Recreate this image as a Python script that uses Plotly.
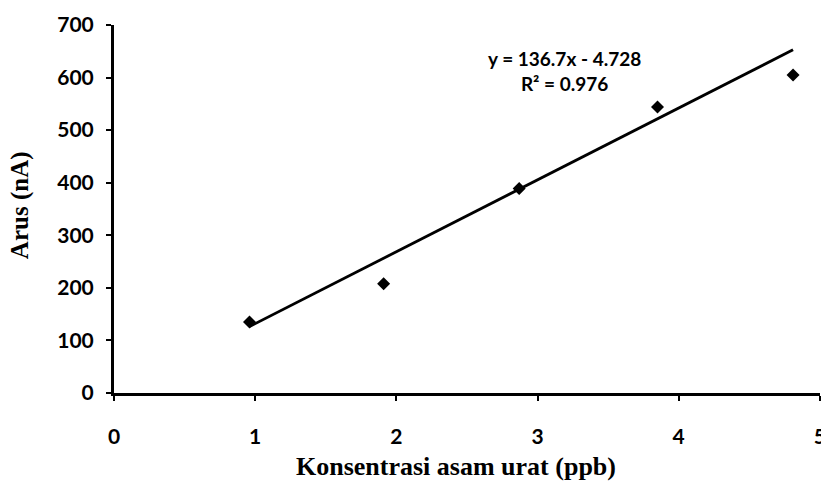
import plotly.graph_objects as go

# Calibration data: uric acid concentration vs. measured current
konsentrasi = [0.96, 1.91, 2.87, 3.85, 4.81]   # ppb
arus = [135, 208, 389, 544, 605]                # nA

# Linear trendline coefficients (y = a*x + b)
slope = 136.7
intercept = -4.728
r_squared = 0.976

x_ticks = [0, 1, 2, 3, 4, 5]
y_ticks = [0, 100, 200, 300, 400, 500, 600, 700]

trend_x = [min(konsentrasi), max(konsentrasi)]
trend_y = [slope * x + intercept for x in trend_x]

tick_font = dict(family="Lato", size=21, color="black", weight=900)
title_font = dict(family="Liberation Serif", size=26, color="black")

fig = go.Figure()
fig.add_trace(go.Scatter(
    x=trend_x, y=trend_y, mode="lines",
    line=dict(color="black", width=2.8), showlegend=False, hoverinfo="skip",
))
fig.add_trace(go.Scatter(
    x=konsentrasi, y=arus, mode="markers",
    marker=dict(symbol="diamond", size=10, color="black"), showlegend=False,
))

fig.add_annotation(
    x=3.19, y=612, xref="x", yref="y",
    text=f"<b>y = {slope}x - {abs(intercept)}</b><br><b>R² = {r_squared}</b>",
    showarrow=False, align="center",
    font=dict(family="Lato", size=19, color="black", weight=900),
)

fig.add_annotation(
    x=0.484, y=-0.2, xref="paper", yref="paper",
    text="<b>Konsentrasi asam urat (ppb)</b>", showarrow=False,
    font=title_font, xanchor="center", yanchor="middle",
)

fig.add_annotation(
    x=-0.132, y=0.51, xref="paper", yref="paper",
    text="<b>Arus (nA)</b>", showarrow=False, textangle=-90,
    font=dict(family="Liberation Serif", size=25, color="black"),
    xanchor="center", yanchor="middle",
)

fig.update_layout(
    width=821, height=486,
    margin=dict(l=114, r=1, t=25, b=93, autoexpand=False),
    paper_bgcolor="white", plot_bgcolor="white",
    font=dict(family="Lato", color="black"),
)
fig.update_xaxes(
    range=[0, 5.001], tickvals=x_ticks,
    ticktext=[f"<b>{v}</b>" for v in x_ticks],
    showline=True, linecolor="black", linewidth=3,
    ticks="outside", ticklen=5, tickwidth=2, tickcolor="black",
    showgrid=False, zeroline=False, tickfont=tick_font,
    ticklabelstandoff=18, ticklabeloverflow="allow", automargin=False,
)
fig.update_yaxes(
    range=[0, 700], tickvals=y_ticks,
    ticktext=[f"<b>{v}</b>" for v in y_ticks],
    showline=True, linecolor="black", linewidth=3,
    ticks="outside", ticklen=5, tickwidth=2, tickcolor="black",
    showgrid=False, zeroline=False, tickfont=tick_font,
    ticklabelstandoff=8, automargin=False,
)

fig.write_html("out.html")
